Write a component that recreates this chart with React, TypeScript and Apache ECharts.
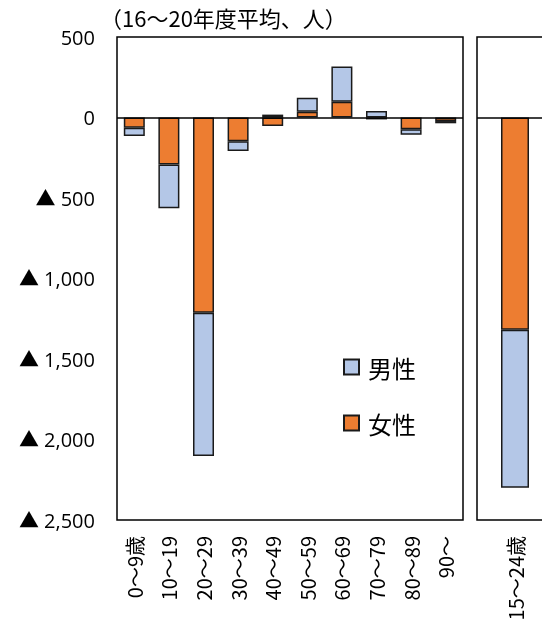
import React, { useEffect, useRef } from "react";
import * as echarts from "echarts";

const ageCategories = ["0～9歳", "10～19", "20～29", "30～39", "40～49", "50～59", "60～69", "70～79", "80～89", "90～"];
const femaleValues = [-63, -292, -1212, -148, -53, 36, 98, -12, -73, -22];
const maleValues = [-52, -272, -890, -60, 18, 87, 218, 40, -34, -14];

const youthCategories = ["15～24歳"];
const youthFemale = [-1318];
const youthMale = [-981];

const seriesNames = ["男性", "女性"];
const titleText = "（16～20年度平均、人）";

const FONT = "'Open Sans', 'Noto Sans CJK JP', sans-serif";
const CJK_FONT = "'Noto Sans CJK JP', sans-serif";
const MALE_COLOR = "#B4C7E7";
const FEMALE_COLOR = "#ED7D31";
const BORDER = "#1a1a1a";

function yLabel(v: number): string {
  if (v < 0) return "▲ " + Math.abs(v).toLocaleString("en-US");
  return String(v);
}

export default function App() {
  const ref = useRef<HTMLDivElement>(null);
  useEffect(() => {
    if (!ref.current) return;
    const chart = echarts.init(ref.current, undefined, { renderer: "svg" });
    const zeroLine = {
      silent: true,
      symbol: ["none", "none"],
      label: { show: false },
      lineStyle: { color: "#000", width: 1.5, type: "solid" },
      data: [{ yAxis: 0 }],
    };
    const barStyle = (color: string) => ({ color, borderColor: BORDER, borderWidth: 1.5 });
    const xLabel = { rotate: 90, margin: 16, fontSize: 20, color: "#000", fontFamily: CJK_FONT };
    chart.setOption({
      animation: false,
      textStyle: { fontFamily: FONT },
      title: {
        text: titleText,
        left: 95,
        top: 1,
        textStyle: { fontFamily: CJK_FONT, fontSize: 22, fontWeight: "normal", color: "#000" },
      },
      legend: {
        data: seriesNames,
        orient: "vertical",
        left: 343,
        top: 355,
        padding: 0,
        itemWidth: 15,
        itemHeight: 15,
        itemGap: 32,
        icon: "rect",
        textStyle: { fontFamily: CJK_FONT, fontSize: 24, lineHeight: 24, color: "#000", padding: [0, 0, 0, 4] },
      },
      grid: [
        { left: 117, top: 37, width: 346, height: 483, show: true, borderColor: "#000", borderWidth: 1.5, backgroundColor: "transparent" },
        { left: 477, top: 37, width: 76, height: 483, show: true, borderColor: "#000", borderWidth: 1.5, backgroundColor: "transparent" },
      ],
      xAxis: [
        {
          type: "category",
          gridIndex: 0,
          data: ageCategories,
          axisLine: { show: false },
          axisTick: { show: false },
          axisLabel: xLabel,
        },
        {
          type: "category",
          gridIndex: 1,
          data: youthCategories,
          axisLine: { show: false },
          axisTick: { show: false },
          axisLabel: xLabel,
        },
      ],
      yAxis: [
        {
          type: "value",
          gridIndex: 0,
          min: -2500,
          max: 500,
          interval: 500,
          axisLine: { show: false },
          axisTick: { show: false },
          splitLine: { show: false },
          axisLabel: { margin: 22, fontSize: 20, color: "#000", fontFamily: FONT, formatter: yLabel },
        },
        {
          type: "value",
          gridIndex: 1,
          min: -2500,
          max: 500,
          interval: 500,
          axisLine: { show: false },
          axisTick: { show: false },
          splitLine: { show: false },
          axisLabel: { show: false },
        },
      ],
      series: [
        {
          name: "女性",
          type: "bar",
          xAxisIndex: 0,
          yAxisIndex: 0,
          stack: "main",
          data: femaleValues,
          barWidth: 21,
          itemStyle: barStyle(FEMALE_COLOR),
          markLine: zeroLine,
        },
        {
          name: "男性",
          type: "bar",
          xAxisIndex: 0,
          yAxisIndex: 0,
          stack: "main",
          data: maleValues,
          barWidth: 21,
          itemStyle: barStyle(MALE_COLOR),
        },
        {
          name: "女性",
          type: "bar",
          xAxisIndex: 1,
          yAxisIndex: 1,
          stack: "youth",
          data: youthFemale,
          barWidth: 28,
          itemStyle: barStyle(FEMALE_COLOR),
          markLine: zeroLine,
        },
        {
          name: "男性",
          type: "bar",
          xAxisIndex: 1,
          yAxisIndex: 1,
          stack: "youth",
          data: youthMale,
          barWidth: 28,
          itemStyle: barStyle(MALE_COLOR),
        },
      ],
    });
    return () => chart.dispose();
  }, []);
  return (
    <div style={{ position: "fixed", left: 0, top: 0, width: 542, height: 628, overflow: "hidden" }}>
      <div ref={ref} style={{ width: 620, height: 628 }} />
    </div>
  );
}
